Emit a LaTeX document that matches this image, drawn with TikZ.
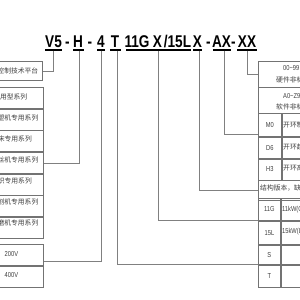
\documentclass[tikz,border=0pt]{standalone}
\usepackage{fontspec}
\setmainfont{Liberation Sans}
\newfontfamily\ttlfont[FakeStretch=0.8]{Liberation Sans}
\newfontfamily\nrwfont[FakeStretch=0.8]{Liberation Sans}
\newfontfamily\cjkfont{Noto Sans CJK SC}
\begin{document}
\begin{tikzpicture}[x=1pt,y=-1pt,
  ttl/.style={font=\ttlfont\bfseries\fontsize{17}{17}\selectfont, inner sep=0, anchor=base},
  lbl/.style={font=\cjkfont\fontsize{6.8}{7}\selectfont, text=black!75, inner sep=0},
  num/.style={font=\nrwfont\fontsize{7.2}{7.2}\selectfont, text=black!75},
  box/.style={draw=black!55, line width=0.8pt, inner sep=0},
  conn/.style={draw=black!50, line width=0.8pt},
  uline/.style={draw=black, line width=1.3pt}]
\useasboundingbox (0,0) rectangle (300,300);
\clip (0,0) rectangle (300,300);
\fill[white] (0,0) rectangle (300,300);

% ---- title code ----
\node[ttl] (tV5) at (53.5,47) {V5};
\node[ttl] (d1) at (67.5,47) {-};
\node[ttl] (tH) at (78,47) {H};
\node[ttl] (d2) at (90,47) {-};
\node[ttl] (t4) at (101,47) {4};
\node[ttl] (tT) at (115,47) {T};
\node[ttl] (t11G) at (137,47) {11G};
\node[ttl] (tX1) at (157.5,47) {X};
\node[ttl] (t15L) at (177.5,47) {/15L};
\node[ttl] (tX2) at (197.5,47) {X};
\node[ttl] (d3) at (208.5,47) {-};
\node[ttl] (tAX) at (221.5,47) {AX};
\node[ttl] (d4) at (233.5,47) {-};
\node[ttl] (tXX) at (247,47) {XX};

\draw[uline] (45,50) -- (62,50);
\draw[uline] (73,50) -- (83.5,50);
\draw[uline] (97,50) -- (105,50);
\draw[uline] (110,50) -- (121,50);
\draw[uline] (126,50) -- (191,50);
\draw[uline] (193,50) -- (202,50);
\draw[uline] (213,50) -- (231,50);
\draw[uline] (237,50) -- (257,50);

\coordinate (kV5) at (53,50.6);
\coordinate (kH) at (79,50.6);
\coordinate (k4) at (101,50.6);
\coordinate (kT) at (117,50.6);
\coordinate (kG) at (158,50.6);
\coordinate (kX) at (199,50.6);
\coordinate (kAX) at (224,50.6);
\coordinate (kXX) at (247,50.6);

% ---- left boxes ----
\node[box, anchor=north east, minimum width=80, minimum height=19] (L0) at (43,61) {};
\node[lbl, anchor=east] (L0t) at (38.5,70.5) {控制技术平台};

\node[box, anchor=north east, minimum width=80, minimum height=20.86] (G1) at (44,87) {};
\node[box, anchor=north west, minimum width=80, minimum height=20.86] (G2) at (G1.south west) {};
\node[box, anchor=north west, minimum width=80, minimum height=20.86] (G3) at (G2.south west) {};
\node[box, anchor=north west, minimum width=80, minimum height=20.86] (G4) at (G3.south west) {};
\node[box, anchor=north west, minimum width=80, minimum height=20.86] (G5) at (G4.south west) {};
\node[box, anchor=north west, minimum width=80, minimum height=20.86] (G6) at (G5.south west) {};
\node[box, anchor=north west, minimum width=80, minimum height=20.86] (G7) at (G6.south west) {};
\node[lbl, anchor=east] (G1t) at (27.5,97.4) {通用型系列};
\node[lbl, anchor=east] (G2t) at (38.5,118.3) {注塑机专用系列};
\node[lbl, anchor=east] (G3t) at (32,139.1) {机床专用系列};
\node[lbl, anchor=east] (G4t) at (38.5,160) {拉丝机专用系列};
\node[lbl, anchor=east] (G5t) at (32,180.9) {纺织专用系列};
\node[lbl, anchor=east] (G6t) at (38.5,201.7) {切割机专用系列};
\node[lbl, anchor=east] (G7t) at (38.5,222.6) {研磨机专用系列};

\node[box, anchor=north east, minimum width=80, minimum height=21] (V2) at (44,244) {};
\node[box, anchor=north west, minimum width=80, minimum height=21] (V4) at (V2.south west) {};
\node[num, anchor=west, inner sep=0] (V2t) at (4.5,254.5) {200V};
\node[num, anchor=west, inner sep=0] (V4t) at (4.5,275.5) {400V};

% ---- right boxes ----
\node[box, anchor=north west, minimum width=80, minimum height=26] (R0) at (258,61) {};
\node[num, anchor=west, inner sep=0] (R0a) at (283,68.5) {00\textasciitilde 99};
\node[lbl, anchor=west] (R0b) at (276,80) {硬件非标准版本};
\node[box, anchor=north west, minimum width=80, minimum height=26] (R1) at (258,87) {};
\node[num, anchor=west, inner sep=0] (R1a) at (283,96) {A0\textasciitilde Z9};
\node[lbl, anchor=west] (R1b) at (276,107) {软件非标准版本};

\node[box, num, anchor=north west, minimum width=23, minimum height=23] (cM0) at (258,113) {M0};
\node[box, anchor=north west, minimum width=60, minimum height=23] (xM0) at (cM0.north east) {};
\node[lbl, anchor=west] (xM0t) at (283,124.5) {开环制动型};
\node[box, num, anchor=north west, minimum width=23, minimum height=21] (cD6) at (cM0.south west) {D6};
\node[box, anchor=north west, minimum width=60, minimum height=21] (xD6) at (cD6.north east) {};
\node[lbl, anchor=west] (xD6t) at (283,146.5) {开环起重型};
\node[box, num, anchor=north west, minimum width=23, minimum height=21] (cH3) at (cD6.south west) {H3};
\node[box, anchor=north west, minimum width=60, minimum height=21] (xH3) at (cH3.north east) {};
\node[lbl, anchor=west] (xH3t) at (283,167.5) {开环高速型};
\node[box, anchor=north west, minimum width=83, minimum height=20] (Rs) at (cH3.south west) {};
\node[lbl, anchor=west] (Rst) at (260,188) {结构版本，缺省为标准版本};

\node[box, num, anchor=north west, minimum width=22, minimum height=22] (c11) at (258,198) {11G};
\node[box, anchor=north west, minimum width=60, minimum height=22] (x11) at (c11.north east) {};
\node[num, anchor=west, inner sep=0] (x11t) at (282,209) {11kW(G{\cjkfont 型})};
\node[box, num, anchor=north west, minimum width=22, minimum height=23] (c15) at (c11.south west) {15L};
\node[box, anchor=north west, minimum width=60, minimum height=23] (x15) at (c15.north east) {};
\node[num, anchor=west, inner sep=0] (x15t) at (282,231.5) {15kW(L{\cjkfont 型})};

\node[box, num, anchor=north west, minimum width=22, minimum height=19] (cS) at (258,245) {S};
\node[box, anchor=north west, minimum width=60, minimum height=19] (xS) at (cS.north east) {};
\node[box, num, anchor=north west, minimum width=22, minimum height=22] (cT) at (cS.south west) {T};
\node[box, anchor=north west, minimum width=60, minimum height=22] (xT) at (cT.north east) {};

% ---- connector ends ----
\coordinate (eH) at (44,163);
\coordinate (e4) at (44,261);
\coordinate (eT) at (258,264);
\coordinate (eG) at (258,220);
\coordinate (eAX) at (258,134);

\draw[conn] (kV5) |- (L0.east);
\draw[conn] (kH) |- (eH);
\draw[conn] (k4) |- (e4);
\draw[conn] (kT) |- (eT);
\draw[conn] (kG) |- (eG);
\draw[conn] (kX) |- (Rs.west);
\draw[conn] (kAX) |- (eAX);
\draw[conn] (kXX) |- (R0.west);
\end{tikzpicture}
\end{document}
